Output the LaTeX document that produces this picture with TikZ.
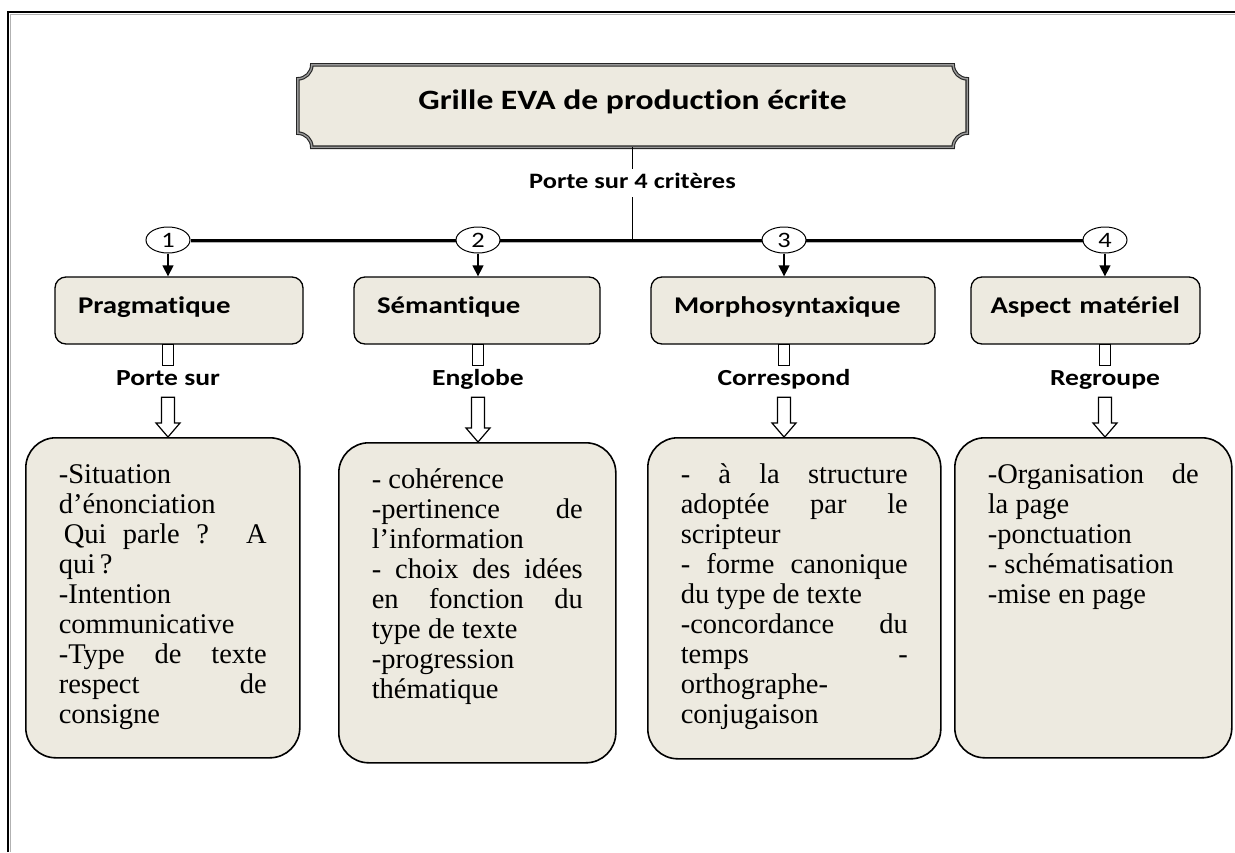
\documentclass[tikz,border=0pt]{standalone}
\usepackage{fontspec}
\setmainfont{Liberation Serif}
\newfontfamily\headfont[FakeStretch=1.2,Ligatures=NoCommon]{Carlito}
\usepackage{tikz}
\usetikzlibrary{
  arrows.meta,
  shapes.geometric,
  calc,
  backgrounds
}
\definecolor{parchment}{RGB}{237,234,224}
\newcommand\spreadline[1]{\makebox[\linewidth][s]{#1}}

\begin{document}
\begin{tikzpicture}[
  x=1pt,y=1pt,
  plaque/.style={draw=black!85,line width=1.1pt,double=black!40,double distance=1.4pt,fill=parchment},
  crit/.style={rectangle,rounded corners=11pt,draw,line width=1.3pt,fill=parchment,minimum height=67pt,inner xsep=23pt,align=left,text height=17pt,text depth=12pt,font=\headfont\bfseries\fontsize{24}{28}\selectfont},
  num/.style={ellipse,draw,line width=1pt,fill=white,minimum width=44pt,minimum height=26pt,inner sep=0pt,font=\headfont\fontsize{22}{24}\selectfont},
  lbl/.style={inner ysep=4pt,text height=15pt,text depth=5pt,font=\headfont\bfseries\fontsize{23}{26}\selectfont},
  bigbox/.style={rectangle,rounded corners=30pt,draw,line width=1.6pt,fill=parchment,inner xsep=33pt,inner ysep=25pt,anchor=north west,font=\fontsize{28.5}{30}\selectfont},
  tip/.style={-{Triangle[length=11pt,width=11pt]},line width=1.4pt},
  hollow/.style={draw,fill=white,line width=1.2pt},
  bus/.style={line width=3pt,preaction={draw=black!30,line width=3pt,transform canvas={yshift=-1.8pt}}}
]
\useasboundingbox (0,0) rectangle (1235,-852);
% page frame
\draw[black!30,line width=1.5pt] (10.5,-852) -- (10.5,-14.5) -- (1235,-14.5);
\draw[line width=2.4pt] (8,-852) -- (8,-12) -- (1235,-12);

\node[font=\headfont\bfseries\fontsize{28}{32}\selectfont,minimum width=669pt,minimum height=82pt,text height=20pt,text depth=14pt] (title) at (632.5,-106) {Grille EVA de production écrite};

\node[num] (c1) at (168,-240) {1};
\node[num] (c2) at (478,-240) {2};
\node[num] (c3) at (784,-240) {3};
\node[num] (c4) at (1105,-240) {4};

\begin{scope}[on background layer]
\draw[plaque] ([xshift=14pt]title.north west) -- ([xshift=-14pt]title.north east)
  arc[start angle=180,end angle=270,radius=14pt] -- ([yshift=14pt]title.south east)
  arc[start angle=90,end angle=180,radius=14pt] -- ([xshift=14pt]title.south west)
  arc[start angle=0,end angle=90,radius=14pt] -- ([yshift=-14pt]title.north west)
  arc[start angle=270,end angle=360,radius=14pt] -- cycle;
\draw[bus] (c1) -- (c4);
\end{scope}

\draw[line width=1.2pt] (title) -- node[lbl,fill=white,pos=0.39,font=\headfont\bfseries\fontsize{22}{26}\selectfont]{Porte sur 4 critères} (title.south |- c1.center);

% criteres
\node[crit,text width=202pt] (k1) at (179,-310.5) {Pragmatique};
\node[crit,text width=200pt] (k2) at (477,-310.5) {Sémantique};
\node[crit,text width=238pt] (k3) at (793,-310.5) {Morphosyntaxique};
\node[crit,text width=190pt,inner xsep=19.5pt] (k4) at (1085.5,-310.5) {Aspect matériel};

\draw[tip] (c1) -- (c1 |- k1.north);
\draw[tip] (c2) -- (c2 |- k2.north);
\draw[tip] (c3) -- (c3 |- k3.north);
\draw[tip] (c4) -- (c4 |- k4.north);

\node[lbl] (l1) at (168,-380) {Porte sur};
\node[lbl] (l2) at (478,-380) {Englobe};
\node[lbl] (l3) at (784,-380) {Correspond};
\node[lbl] (l4) at (1105,-380) {Regroupe};

% contenus
\node[bigbox] (bA) at (25,-437) {\parbox[t][270pt][t]{208pt}{\strut-Situation\\
d’énonciation\\
\spreadline{\hspace*{5pt}Qui parle ? A}\\
qui\,?\\
-Intention\\
communicative\\
\spreadline{-Type de texte}\\
\spreadline{respect de}\\
consigne}};
\node[bigbox] (bB) at (338,-442) {\parbox[t][270pt][t]{211pt}{\strut- cohérence\\
\spreadline{-pertinence de}\\
l’information\\
\spreadline{- choix des idées}\\
\spreadline{en fonction du}\\
type de texte\\
-progression\\
thématique}};
\node[bigbox] (bC) at (647,-437) {\parbox[t][271pt][t]{227pt}{\strut\spreadline{- à la structure}\\
\spreadline{adoptée par le}\\
scripteur\\
\spreadline{- forme canonique}\\
du type de texte\\
\spreadline{-concordance du}\\
\spreadline{temps -}\\
orthographe-\\
conjugaison}};
\node[bigbox] (bD) at (954,-437) {\parbox[t][270pt][t]{211pt}{\strut\spreadline{-Organisation de}\\
la page\\
-ponctuation\\
- schématisation\\
-mise en page}};

\draw[hollow] ($(c1 |- k1.south)+(-5.5,0)$) rectangle ($(c1 |- l1.north)+(5.5,0)$);
\draw[hollow] ($(c2 |- k2.south)+(-5.5,0)$) rectangle ($(c2 |- l2.north)+(5.5,0)$);
\draw[hollow] ($(c3 |- k3.south)+(-5.5,0)$) rectangle ($(c3 |- l3.north)+(5.5,0)$);
\draw[hollow] ($(c4 |- k4.south)+(-5.5,0)$) rectangle ($(c4 |- l4.north)+(5.5,0)$);

\draw[hollow] let \p1=(l1.south), \p2=(bA.north) in (\x1-6.5pt,\y1-3pt) -- (\x1-6.5pt,\y2+14pt) -- (\x1-12pt,\y2+14pt) -- (\x1,\y2) -- (\x1+12pt,\y2+14pt) -- (\x1+6.5pt,\y2+14pt) -- (\x1+6.5pt,\y1-3pt) -- cycle;
\draw[hollow] let \p1=(l2.south), \p2=(bB.north) in (\x1-6.5pt,\y1-3pt) -- (\x1-6.5pt,\y2+14pt) -- (\x1-12pt,\y2+14pt) -- (\x1,\y2) -- (\x1+12pt,\y2+14pt) -- (\x1+6.5pt,\y2+14pt) -- (\x1+6.5pt,\y1-3pt) -- cycle;
\draw[hollow] let \p1=(l3.south), \p2=(bC.north) in (\x1-6.5pt,\y1-3pt) -- (\x1-6.5pt,\y2+14pt) -- (\x1-12pt,\y2+14pt) -- (\x1,\y2) -- (\x1+12pt,\y2+14pt) -- (\x1+6.5pt,\y2+14pt) -- (\x1+6.5pt,\y1-3pt) -- cycle;
\draw[hollow] let \p1=(l4.south), \p2=(bD.north) in (\x1-6.5pt,\y1-3pt) -- (\x1-6.5pt,\y2+14pt) -- (\x1-12pt,\y2+14pt) -- (\x1,\y2) -- (\x1+12pt,\y2+14pt) -- (\x1+6.5pt,\y2+14pt) -- (\x1+6.5pt,\y1-3pt) -- cycle;
\end{tikzpicture}
\end{document}
